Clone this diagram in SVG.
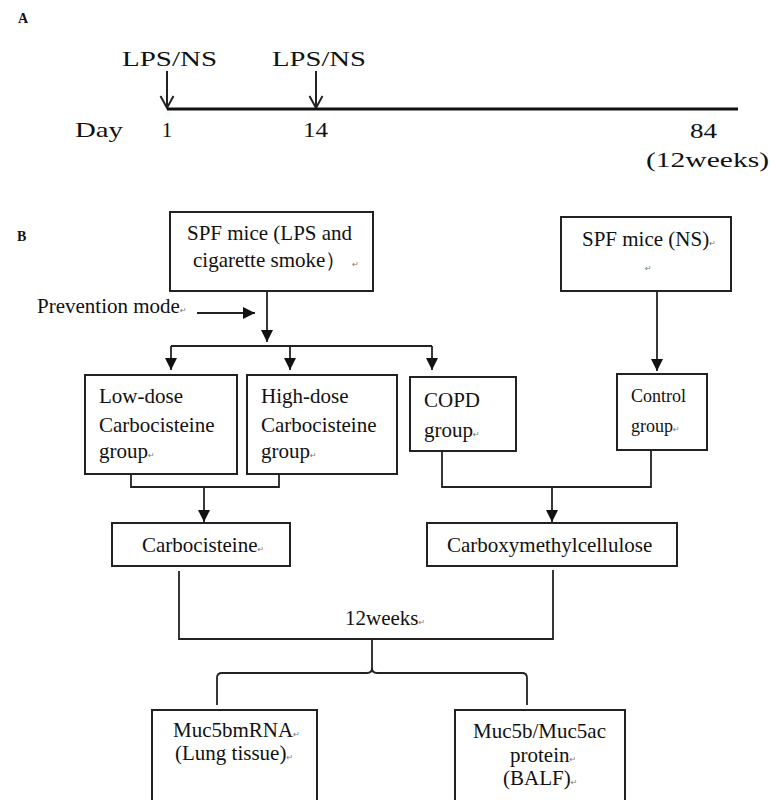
<svg xmlns="http://www.w3.org/2000/svg" width="771" height="800" viewBox="0 0 771 800">
<style>
.t{font-family:"Liberation Serif","Times New Roman",serif;font-size:21px;fill:#111}
.ta{font-family:"Liberation Serif","Times New Roman",serif;font-size:21px;fill:#111}
.lbl{font-family:"Liberation Serif","Times New Roman",serif;font-size:14px;font-weight:bold;fill:#111}
.r{font-family:"DejaVu Sans",sans-serif;font-size:8px;fill:#777}
.box{fill:#fff;stroke:#222;stroke-width:2}
.c{fill:none;stroke:#222;stroke-width:1.8}
</style>
<defs>
<marker id="ah" markerUnits="userSpaceOnUse" markerWidth="12" markerHeight="12" refX="12" refY="6" orient="auto">
<path d="M0,0 L12,6 L0,12 z" fill="#111"/>
</marker>
</defs>
<rect width="771" height="800" fill="#fff"/>

<g id="panelA">
<text class="lbl" x="18" y="23">A</text>
<text class="ta" x="122" y="66" textLength="95" lengthAdjust="spacingAndGlyphs">LPS/NS</text>
<text class="ta" x="272" y="66" textLength="94" lengthAdjust="spacingAndGlyphs">LPS/NS</text>
<g class="c" stroke-width="2">
<line x1="167" y1="71" x2="167" y2="107" style="stroke-width:2"/>
<polyline points="160.5,96 167,108 173.5,96" style="stroke-width:2"/>
<line x1="316" y1="71" x2="316" y2="107" style="stroke-width:2"/>
<polyline points="309.5,96 316,108 322.5,96" style="stroke-width:2"/>
<line x1="167" y1="109" x2="738" y2="109" style="stroke-width:3.2;stroke:#111"/>
</g>
<text class="ta" x="75" y="137" textLength="48" lengthAdjust="spacingAndGlyphs">Day</text>
<text class="ta" x="167" y="137" text-anchor="middle">1</text>
<text class="ta" x="303" y="137" textLength="25" lengthAdjust="spacingAndGlyphs">14</text>
<text class="ta" x="690" y="138" textLength="27" lengthAdjust="spacingAndGlyphs">84</text>
<text class="ta" x="646" y="167" textLength="123" lengthAdjust="spacingAndGlyphs">(12weeks)</text>
</g>

<text class="lbl" x="17" y="241">B</text>

<g id="connectors">
<path class="c" d="M267,291 V342" marker-end="url(#ah)"/>
<path class="c" d="M171,346 H432"/>
<path class="c" d="M171,346 V370" marker-end="url(#ah)"/>
<path class="c" d="M290,346 V370" marker-end="url(#ah)"/>
<path class="c" d="M432,346 V370" marker-end="url(#ah)"/>
<path class="c" d="M657,291 V371" marker-end="url(#ah)"/>
<path class="c" d="M197,313 H255" marker-end="url(#ah)"/>
<path class="c" d="M131,474 V487 H279 V474"/>
<path class="c" d="M204,487 V522" marker-end="url(#ah)"/>
<path class="c" d="M442,451 V487 H651 V450"/>
<path class="c" d="M552,487 V522" marker-end="url(#ah)"/>
<path class="c" d="M179,571 V639 H553 V570"/>
<path class="c" d="M372,639 V668 Q372,673 367,673 H222 Q217,673 217,678 V705"/>
<path class="c" d="M372,668 Q372,673 377,673 H522 Q527,673 527,678 V705"/>
</g>

<text class="t" x="37" y="313">Prevention mode<tspan class="r">↵</tspan></text>
<text class="t" x="345" y="625">12weeks<tspan class="r">↵</tspan></text>

<g id="spf-lps">
<rect class="box" x="170" y="212" width="203" height="79"/>
<text class="t" x="187" y="240">SPF mice (LPS and</text>
<text class="t" x="193" y="267">cigarette smoke）<tspan class="r" dx="6">↵</tspan></text>
</g>

<g id="spf-ns">
<rect class="box" x="561" y="217" width="170" height="74"/>
<text class="t" x="582" y="246">SPF mice (NS)<tspan class="r">↵</tspan></text>
<text class="r" x="645" y="271">↵</text>
</g>

<g id="low-dose">
<rect class="box" x="85" y="375" width="152" height="99"/>
<text class="t" x="99" y="403">Low-dose</text>
<text class="t" x="99" y="432">Carbocisteine</text>
<text class="t" x="99" y="458">group<tspan class="r">↵</tspan></text>
</g>

<g id="high-dose">
<rect class="box" x="247" y="375" width="150" height="99"/>
<text class="t" x="261" y="403">High-dose</text>
<text class="t" x="261" y="432">Carbocisteine</text>
<text class="t" x="261" y="458">group<tspan class="r">↵</tspan></text>
</g>

<g id="copd">
<rect class="box" x="410" y="377" width="106" height="74"/>
<text class="t" x="424" y="407">COPD</text>
<text class="t" x="424" y="437">group<tspan class="r">↵</tspan></text>
</g>

<g id="control">
<rect class="box" x="617" y="374" width="90" height="76"/>
<text class="t" x="631" y="402" style="font-size:18px">Control</text>
<text class="t" x="631" y="432" style="font-size:18px">group<tspan class="r">↵</tspan></text>
</g>

<g id="carbocisteine">
<rect class="box" x="112" y="523" width="178" height="43"/>
<text class="t" x="142" y="552">Carbocisteine<tspan class="r">↵</tspan></text>
</g>

<g id="cmc">
<rect class="box" x="427" y="523" width="250" height="43"/>
<text class="t" x="447" y="552">Carboxymethylcellulose</text>
</g>

<g id="muc5b-mrna">
<rect class="box" x="152" y="710" width="165" height="110"/>
<text class="t" x="173" y="737">Muc5bmRNA<tspan class="r">↵</tspan></text>
<text class="t" x="175" y="760">(Lung tissue)<tspan class="r">↵</tspan></text>
</g>

<g id="muc-protein">
<rect class="box" x="455" y="710" width="170" height="110"/>
<text class="t" x="473" y="738">Muc5b/Muc5ac</text>
<text class="t" x="510" y="762">protein<tspan class="r">↵</tspan></text>
<text class="t" x="503" y="785">(BALF)<tspan class="r">↵</tspan></text>
</g>
</svg>
